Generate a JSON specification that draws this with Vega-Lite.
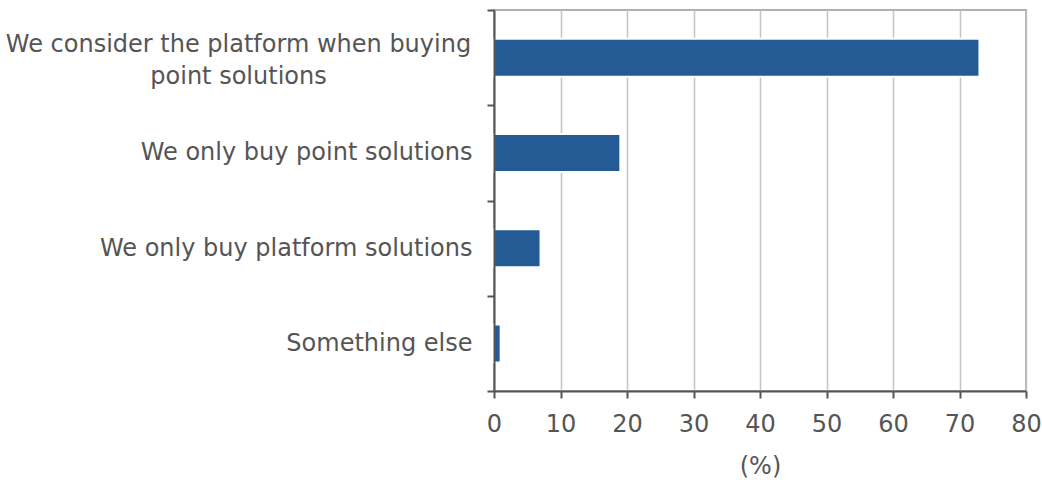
{
  "$schema": "https://vega.github.io/schema/vega-lite/v6.json",
  "autosize": "none",
  "width": 532,
  "height": 381,
  "padding": {"left": 494, "top": 10, "right": 16, "bottom": 89},
  "background": "white",
  "config": {
    "view": {"stroke": "#b0b0b0", "strokeWidth": 2},
    "font": "DejaVu Sans"
  },
  "data": {
    "values": [
      {"category": "We consider the platform when buying point solutions", "percent": 73},
      {"category": "We only buy point solutions", "percent": 19},
      {"category": "We only buy platform solutions", "percent": 7},
      {"category": "Something else", "percent": 1}
    ]
  },
  "mark": {"type": "bar", "color": "#245b94", "stroke": "white", "strokeWidth": 2, "size": 38},
  "encoding": {
    "y": {
      "field": "category",
      "type": "nominal",
      "sort": null,
      "scale": {"paddingInner": 0, "paddingOuter": 0},
      "axis": {
        "title": null,
        "zindex": 1,
        "grid": false,
        "domainColor": "#555555",
        "domainWidth": 2,
        "tickColor": "#555555",
        "tickWidth": 2,
        "tickSize": 7,
        "tickBand": "extent",
        "labelFont": "DejaVu Sans",
        "labelFontSize": 24,
        "labelColor": "#555555",
        "labelLineHeight": 32,
        "labelLimit": 600,
        "labelPadding": {"condition": {"test": "datum.value == 'We consider the platform when buying point solutions'", "value": 249}, "value": 15},
        "labelAlign": {"condition": {"test": "datum.value == 'We consider the platform when buying point solutions'", "value": "center"}, "value": "right"},
        "labelOffset": {"condition": {"test": "datum.value == 'We consider the platform when buying point solutions'", "value": -13}, "value": 0},
        "labelExpr": "datum.value == 'We consider the platform when buying point solutions' ? ['We consider the platform when buying', 'point solutions'] : datum.value"
      }
    },
    "x": {
      "field": "percent",
      "type": "quantitative",
      "scale": {"domain": [0, 80]},
      "axis": {
        "title": "(%)",
        "titleFont": "DejaVu Sans",
        "titleFontSize": 24,
        "titleFontWeight": "normal",
        "titleColor": "#555555",
        "titlePadding": 18,
        "values": [0, 10, 20, 30, 40, 50, 60, 70, 80],
        "domainColor": "#555555",
        "domainWidth": 2,
        "tickColor": "#555555",
        "tickWidth": 2,
        "tickSize": 7,
        "labelFont": "DejaVu Sans",
        "labelFontSize": 24,
        "labelColor": "#555555",
        "labelPadding": 14,
        "labelFlush": false,
        "grid": true,
        "gridColor": "#c4c4c4",
        "gridWidth": 1.5
      }
    }
  }
}
